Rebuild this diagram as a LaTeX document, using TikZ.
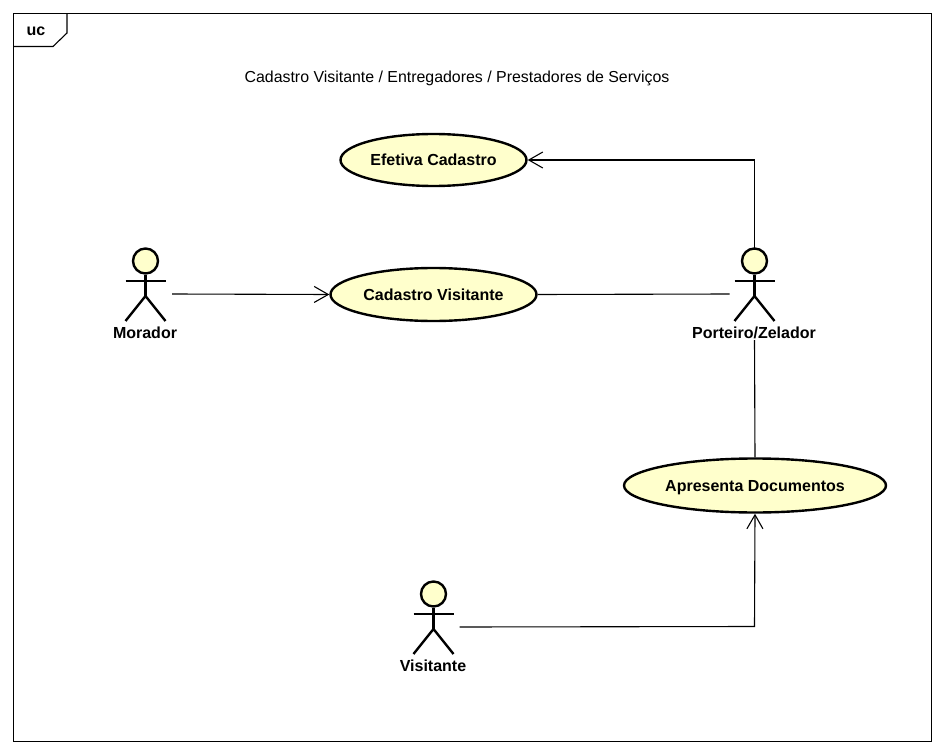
\documentclass[tikz,border=0pt]{standalone}
\usepackage{fontspec}
\setmainfont{Liberation Sans}
\usetikzlibrary{arrows.meta,shapes.geometric}
\definecolor{ucfill}{RGB}{255,255,204}
\tikzset{
  x=1pt,y=-1pt,
  frameline/.style={draw=black,line width=1.1pt},
  usecase/.style={ellipse,draw=black,line width=2.4pt,fill=ucfill,inner sep=0pt,text height=11.5pt,text depth=0pt,font=\bfseries\fontsize{16}{18}\selectfont},
  actorbox/.style={inner sep=0pt,outer sep=0pt,minimum height=92pt},
  actorlabel/.style={inner sep=0pt,font=\bfseries\fontsize{16}{18}\selectfont},
  actorline/.style={draw=black,line width=2.4pt},
  actorhead/.style={circle,draw=black,line width=2.4pt,fill=ucfill,minimum size=25pt,inner sep=0pt},
  assoc/.style={draw=black,line width=1.1pt},
  nav/.style={assoc,-{Straight Barb[length=14pt,width=16pt,line width=1.1pt]}},
}
\newcommand{\ucactor}[5]{% name, x, y(head), label, box width
  \node[actorbox,minimum width=#5pt] (#1) at (#2,#3+33) {};
  \node[actorhead] (#1head) at (#2,#3) {};
  \node[actorlabel,anchor=base] (#1label) at (#2-0.5,#3+77.5) {#4};
  \draw[actorline] (#1head.south) -- (#2,#3+35);
  \draw[actorline] (#2-20,#3+20) -- (#2+20,#3+20);
  \draw[actorline] (#2-20,#3+60) -- (#2,#3+35) -- (#2+20,#3+60);
}
\begin{document}
\begin{tikzpicture}
\useasboundingbox (0,0) rectangle (945,754);
\draw[frameline] (13.5,13.5) rectangle (931.5,741.5);
\draw[frameline] (13.5,46.5) -- (53,46.5) -- (67,33) -- (67,13.5);
\node[inner sep=0pt,font=\bfseries\fontsize{16}{18}\selectfont] (tag) at (36,31) {uc};
\node[inner sep=0pt,anchor=base,font=\fontsize{15.9}{18}\selectfont] (title) at (457,83) {Cadastro Visitante / Entregadores / Prestadores de Serviços};

\node[usecase,minimum width=186pt,minimum height=52pt] (efetiva) at (433.5,160) {Efetiva Cadastro};
\node[usecase,minimum width=206pt,minimum height=53pt] (cadastro) at (433.5,294.5) {Cadastro Visitante};
\node[usecase,minimum width=262pt,minimum height=54pt] (apresenta) at (755,485.5) {Apresenta Documentos};

\ucactor{morador}{145.5}{261}{Morador}{53}
\ucactor{porteiro}{754.5}{261}{Porteiro/Zelador}{50}
\ucactor{visitante}{433.5}{594}{Visitante}{52}

\coordinate (bendtop) at (754.5,160);
\coordinate (bendlow) at (754.5,626.5);
\draw[nav] (porteiro.north) -- (bendtop) -- (efetiva.east);
\draw[nav] (morador.east) -- (cadastro.west);
\draw[assoc] (cadastro.east) -- (porteiro.west);
\draw[assoc] (porteiro.south) -- (apresenta.north);
\draw[nav] (visitante.east) -- (bendlow) -- (apresenta.south);
\end{tikzpicture}
\end{document}
